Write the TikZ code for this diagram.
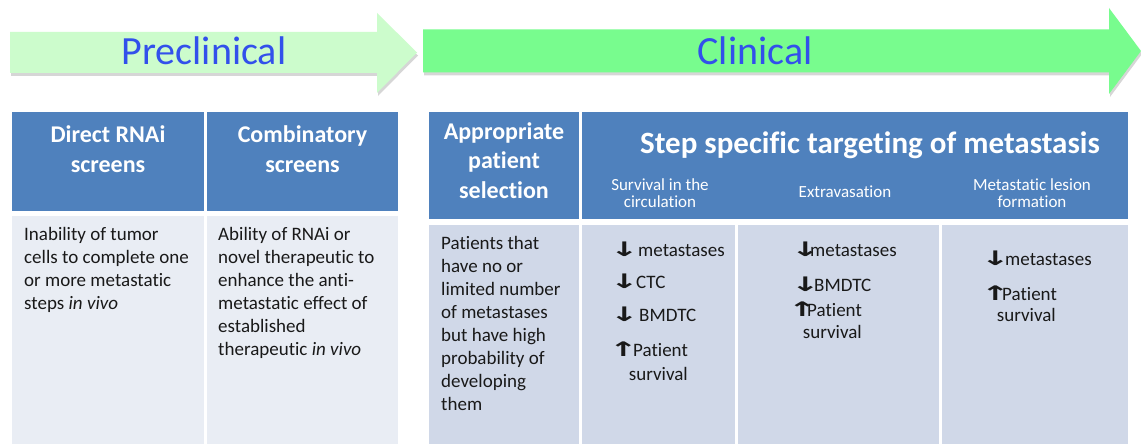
\documentclass[tikz,border=0pt]{standalone}
\usepackage{graphicx}
\usepackage{fontspec}
\setmainfont{Carlito}[Ligatures={NoCommon}]
\newfontfamily\symfont{DejaVu Sans}
\definecolor{hdrblue}{RGB}{79,129,189}
\definecolor{paleblue}{RGB}{233,237,244}
\definecolor{lightblue}{RGB}{208,216,232}
\definecolor{palegreen}{RGB}{204,252,204}
\definecolor{brightgreen}{RGB}{120,252,142}
\definecolor{labelblue}{RGB}{50,80,235}
% heavy arrow glyphs used in the result lists
\newcommand{\dnarr}{\makebox[12pt][l]{\hspace{-7pt}\scalebox{1.7}[1]{\symfont\bfseries\fontsize{20}{20}\selectfont ↓}}}
\newcommand{\uparr}{\makebox[12pt][l]{\hspace{-7pt}\scalebox{1.7}[1]{\symfont\bfseries\fontsize{20}{20}\selectfont ↑}}}
\begin{document}
\begin{tikzpicture}[x=1pt,y=-1pt,
  cell/.style={anchor=north west,inner sep=0pt,outer sep=0pt,draw=none},
  hdrcell/.style={cell,fill=hdrblue},
  palecell/.style={cell,fill=paleblue},
  bluecell/.style={cell,fill=lightblue},
  phase/.style={anchor=base,inner sep=0pt,text=labelblue,font=\fontsize{40}{48}\selectfont},
  hdrtext/.style={anchor=north,inner sep=0pt,align=center,text=white,
    font=\bfseries\fontsize{24}{30}\selectfont},
  subtext/.style={anchor=north,inner sep=0pt,align=center,text=white,
    font=\fontsize{17}{17}\selectfont},
  bodytext/.style={anchor=north west,inner sep=0pt,align=left,text=black!90,
    font=\fontsize{19}{23}\selectfont},
  item/.style={anchor=base west,inner sep=0pt,text=black!90,font=\fontsize{19}{23}\selectfont},
  itemend/.style={item,anchor=base east},
  shadowfill/.style={fill=black,opacity=0.16}
]
\useasboundingbox (0,0) rectangle (1141,444);
\fill[white] (0,0) rectangle (1141,444);

% phase arrows with soft shadows
\fill[shadowfill,shift={(1,3)}] (10,32) -- (377,32) -- (377,13) -- (417,52.5) -- (377,93) -- (377,73) -- (10,73) -- cycle;
\fill[palegreen] (10,32) -- (377,32) -- (377,13) -- (417,52.5) -- (377,93) -- (377,73) -- (10,73) -- cycle;
\fill[shadowfill,shift={(1,3)}] (423,29.5) -- (1109,29.5) -- (1109,8) -- (1141,51) -- (1109,94) -- (1109,72.5) -- (423,72.5) -- cycle;
\fill[brightgreen] (423,29.5) -- (1109,29.5) -- (1109,8) -- (1141,51) -- (1109,94) -- (1109,72.5) -- (423,72.5) -- cycle;
\node[phase] (pre) at (204,65) {Preclinical};
\node[phase] (cli) at (755,65) {Clinical};

% preclinical table
\node[hdrcell,minimum width=192pt,minimum height=99pt] (h1) at (12,112) {};
\node[hdrcell,minimum width=191pt,minimum height=99pt] (h2) at (207,112) {};
\node[palecell,minimum width=192pt,minimum height=228pt] (b1) at (12,216) {};
\node[palecell,minimum width=191pt,minimum height=228pt] (b2) at (207,216) {};
\node[hdrtext] (th1) at (108,125.7) {Direct RNAi\\screens};
\node[hdrtext] (th2) at (302.5,125.7) {Combinatory\\screens};
\node[bodytext] (tb1) at (24,227) {Inability of tumor\\cells to complete one\\or more metastatic\\steps \emph{in vivo}};
\node[bodytext] (tb2) at (218,227) {Ability of RNAi or\\novel therapeutic to\\enhance the anti-\\metastatic effect of\\established\\therapeutic \emph{in vivo}};

% clinical table
\node[hdrcell,minimum width=150pt,minimum height=107pt] (h3) at (429,112) {};
\node[hdrcell,minimum width=546pt,minimum height=107pt] (h4) at (582,112) {};
\node[bluecell,minimum width=150pt,minimum height=219pt] (b3) at (429,225) {};
\node[bluecell,minimum width=153pt,minimum height=219pt] (b4) at (582,225) {};
\node[bluecell,minimum width=201pt,minimum height=219pt] (b5) at (738,225) {};
\node[bluecell,minimum width=186pt,minimum height=219pt] (b6) at (942,225) {};
\node[hdrtext,font=\bfseries\fontsize{24}{29.5}\selectfont] (th3) at (504,122) {Appropriate\\patient\\selection};
\node[anchor=base,inner sep=0pt,text=white,font=\bfseries\fontsize{31}{36}\selectfont] (th4) at (870,153) {Step specific targeting of metastasis};
\node[subtext] (s1) at (660,178) {Survival in the\\circulation};
\node[anchor=base,inner sep=0pt,text=white,font=\fontsize{17}{17}\selectfont] (s2) at (845,197) {Extravasation};
\node[subtext] (s3) at (1032,178.7) {Metastatic lesion\\formation};
\node[bodytext] (tb3) at (441,235.7) {Patients that\\have no or\\limited number\\of metastases\\but have high\\probability of\\developing\\them};

% survival in the circulation
\node[item] (c1a) at (617,256.7) {\dnarr\hspace{9pt}metastases};
\node[item] (c1b) at (617,288) {\dnarr\hspace{7pt}CTC};
\node[item] (c1c) at (617,321.7) {\dnarr\hspace{10pt}BMDTC};
\node[item] (c1d) at (616,356.7) {\uparr\hspace{5pt}Patient};
\node[itemend] (c1e) at (688,380) {survival};
% extravasation
\node[item] (c2a) at (798,256.7) {\dnarr metastases};
\node[item] (c2b) at (798,291.7) {\dnarr\hspace{4pt}BMDTC};
\node[item] (c2c) at (795,316.7) {\uparr Patient};
\node[itemend] (c2d) at (862,338) {survival};
% metastatic lesion formation
\node[item] (c3a) at (988,265) {\dnarr\hspace{5pt}metastases};
\node[item] (c3b) at (988,300) {\uparr\hspace{2pt}Patient};
\node[itemend] (c3c) at (1056,321.7) {survival};
\end{tikzpicture}
\end{document}
